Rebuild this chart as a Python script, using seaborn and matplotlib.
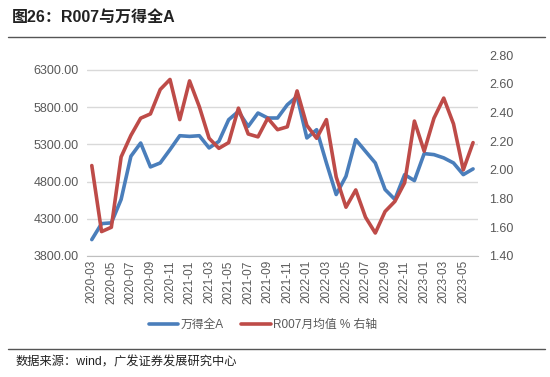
import numpy as np
import pandas as pd
import seaborn as sns
import matplotlib.pyplot as plt
from matplotlib.lines import Line2D

# monthly data, 2020-03 .. 2023-06
months = pd.period_range("2020-03", "2023-06", freq="M").strftime("%Y-%m").tolist()
wind_a = [4020, 4235, 4245, 4560, 5140, 5318, 4997, 5050, 5229, 5416,
          5407, 5416, 5252, 5340, 5631, 5743, 5541, 5721, 5654, 5654,
          5832, 5944, 5386, 5497, 5050, 4626, 4871, 5363, 5206, 5050,
          4693, 4560, 4893, 4813, 5176, 5162, 5118, 5050, 4893, 4970]
r007 = [2.03, 1.57, 1.60, 2.09, 2.24, 2.36, 2.39, 2.56, 2.63, 2.35,
        2.62, 2.44, 2.22, 2.15, 2.19, 2.43, 2.25, 2.23, 2.36, 2.28,
        2.30, 2.55, 2.31, 2.22, 2.35, 1.95, 1.74, 1.86, 1.67, 1.56,
        1.71, 1.78, 1.91, 2.34, 2.13, 2.36, 2.50, 2.32, 2.00, 2.19]

df = pd.DataFrame({"idx": np.arange(len(months)), "month": months,
                   "wind_a": wind_a, "r007": r007})

sns.set_style("white")
plt.rcParams["font.family"] = ["Liberation Sans", "Noto Sans CJK SC"]

blue = "#4a7ebb"
red = "#be4b48"
grey = "#595959"

fig = plt.figure(figsize=(5.5, 3.77), dpi=100)
ax = fig.add_axes([0.158, 0.321, 0.711, 0.533])
ax2 = ax.twinx()

sns.lineplot(data=df, x="idx", y="wind_a", ax=ax, color=blue, lw=2.6,
             solid_joinstyle="round", solid_capstyle="round", label="万得全A", legend=False)
sns.lineplot(data=df, x="idx", y="r007", ax=ax2, color=red, lw=2.6,
             solid_joinstyle="round", solid_capstyle="round", label="R007月均值 % 右轴", legend=False)

ax.set_ylim(3800, 6500)
ax.set_yticks(np.arange(3800, 6301, 500))
ax.set_yticklabels([f"{v:.2f}" for v in np.arange(3800, 6301, 500)])
ax2.set_ylim(1.4, 2.8)
ax2.set_yticks(np.arange(1.4, 2.81, 0.2))
ax2.set_yticklabels([f"{v:.2f}" for v in np.arange(1.4, 2.81, 0.2)])

ax.set_xlim(-0.5, len(months) - 0.5)
ax.set_xticks(df["idx"][::2])
ax.set_xticklabels(df["month"][::2], rotation=90)
ax.set_xticks(list(np.arange(-0.5, len(months), 2)) + [len(months) - 0.5], minor=True)
ax.tick_params(axis="x", which="major", length=0, labelsize=8.5, colors=grey, pad=3)
ax.tick_params(axis="x", which="minor", length=4, color="#bfbfbf", width=0.8)
ax.tick_params(axis="y", length=0, labelsize=9, colors=grey, pad=6)
ax2.tick_params(axis="y", length=0, labelsize=9, colors=grey, pad=8)

ax.grid(axis="y", color="#d9d9d9", lw=1)
ax.set_axisbelow(True)
ax.set_xlabel("")
ax.set_ylabel("")
ax2.set_ylabel("")
for a in (ax, ax2):
    for s in ("top", "left", "right", "bottom"):
        a.spines[s].set_visible(False)
ax.spines["bottom"].set_visible(True)
ax.spines["bottom"].set_color("#bfbfbf")
ax.spines["bottom"].set_linewidth(0.8)

h1, l1 = ax.get_legend_handles_labels()
h2, l2 = ax2.get_legend_handles_labels()
fig.legend(h1 + h2, l1 + l2, loc="center", bbox_to_anchor=(0.478, 0.138), ncol=2,
           frameon=False, fontsize=8.5, handlelength=2.5, columnspacing=1.5,
           handletextpad=0.2, labelcolor=grey)

fig.text(0.022, 0.953, "图26：R007与万得全A", fontsize=11.5, fontweight="bold",
         color="#222222", va="center")
fig.add_artist(Line2D([0.015, 0.99], [0.902, 0.902], transform=fig.transFigure,
                      color="#555555", lw=1))
fig.add_artist(Line2D([0.015, 0.99], [0.074, 0.074], transform=fig.transFigure,
                      color="#555555", lw=1))
fig.text(0.028, 0.038, "数据来源：wind，广发证券发展研究中心", fontsize=8.8,
         color="#222222", va="center")

fig.savefig("out.png", dpi=100)
